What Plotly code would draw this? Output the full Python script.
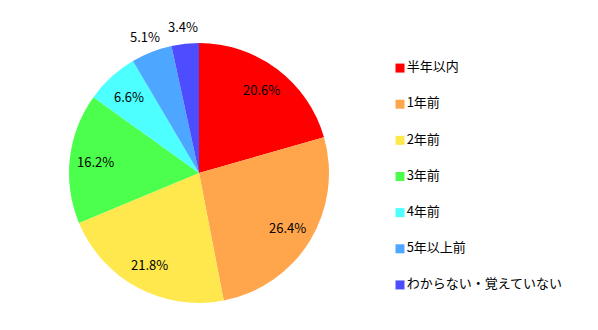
import numpy as np
import plotly.graph_objects as go

categories = ["半年以内", "1年前", "2年前", "3年前", "4年前", "5年以上前", "わからない・覚えていない"]
values = [20.6, 26.4, 21.8, 16.2, 6.6, 5.1, 3.4]
colors = ["#FF0000", "#FFA64D", "#FFE84D", "#4DFF4D", "#4DFFFF", "#4DA6FF", "#4D4DFF"]
label_outside = [False, False, False, False, False, True, True]

FONT = "Noto Sans CJK JP"
W, H = 598, 330
CX, CY, R = 199, 173, 130  # pie centre / radius in px

fig = go.Figure()
fig.add_trace(go.Pie(
    labels=categories,
    values=values,
    marker=dict(colors=colors, line=dict(width=0)),
    sort=False,
    direction="clockwise",
    rotation=0,
    textinfo="none",
    showlegend=False,
    domain=dict(x=[(CX - R) / W, (CX + R) / W], y=[1 - (CY + R) / H, 1 - (CY - R) / H]),
    hoverinfo="label+percent",
))

# data labels placed at slice mid-angles derived from the values
vals = np.array(values, dtype=float)
frac = vals / vals.sum()
mid = (np.cumsum(frac) - frac / 2) * 2 * np.pi
for v, a, out in zip(values, mid, label_outside):
    rr = R * (1.13 if out else 0.80)
    px = CX + rr * np.sin(a)
    py = CY - rr * np.cos(a)
    fig.add_annotation(
        x=px / W, y=1 - py / H, xref="paper", yref="paper",
        text=f"{v:.1f}%", showarrow=False,
        xanchor="center", yanchor="middle",
        font=dict(family=FONT, size=13, color="#000000"),
    )

# legend drawn as a scatter on a hidden category axis
fig.add_trace(go.Scatter(
    x=[0] * len(categories), y=categories,
    mode="markers+text",
    marker=dict(symbol="square", size=9, color=colors),
    text=categories, textposition="middle right",
    textfont=dict(family=FONT, size=13, color="#000000"),
    xaxis="x2", yaxis="y2", showlegend=False, hoverinfo="skip", cliponaxis=False,
))

fig.update_layout(
    width=W, height=H,
    margin=dict(l=0, r=0, t=0, b=0),
    paper_bgcolor="white", plot_bgcolor="white",
    showlegend=False,
    xaxis2=dict(domain=[400 / W, 1], range=[0, 1], visible=False, fixedrange=True),
    yaxis2=dict(domain=[1 - 303 / H, 1 - 50 / H], type="category", categoryorder="array",
                categoryarray=categories, range=[6.5, -0.5], visible=False, fixedrange=True,
                anchor="x2"),
)
fig.update_xaxes(anchor="y2", selector=dict(domain=[400 / W, 1]))

fig.write_html("out.html")
